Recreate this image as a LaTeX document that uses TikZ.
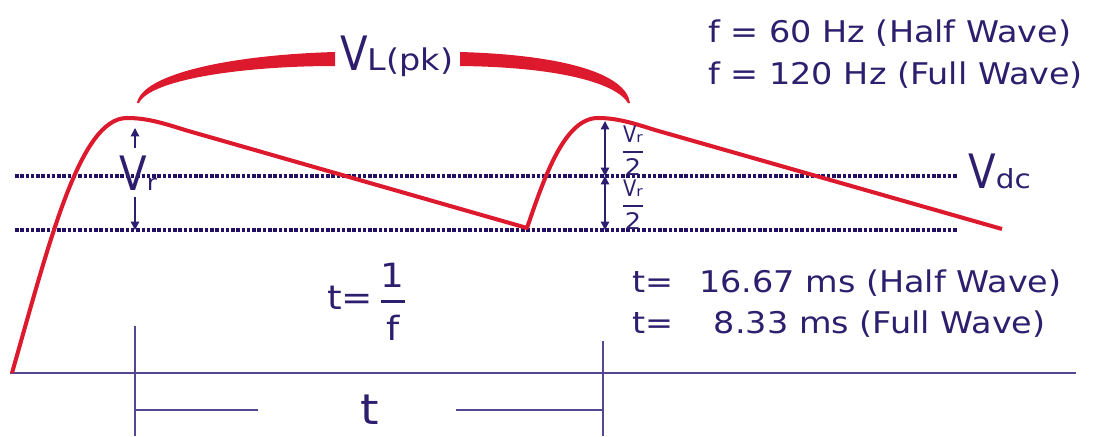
\documentclass[tikz,border=0pt]{standalone}
\usepackage{fontspec}
\setmainfont{DejaVu Sans}[FakeStretch=1.12]
\newfontfamily\tallfont{DejaVu Sans}[FakeStretch=0.85]
\usetikzlibrary{arrows.meta}
\definecolor{inkblue}{RGB}{45,30,110}
\definecolor{dotblue}{RGB}{35,15,100}
\definecolor{axispurple}{RGB}{85,70,145}
\definecolor{wavered}{RGB}{220,25,45}
\newcommand{\bigV}{{\tallfont\fontsize{27}{27}\selectfont V}}

\begin{document}
\begin{tikzpicture}[x=0.02cm, y=-0.02cm,
    txt/.style={text=inkblue, inner sep=0pt, font=\fontsize{17}{20}\selectfont},
    dotline/.style={dotblue, line width=1.8pt, dash pattern=on 2pt off 1pt},
    guide/.style={axispurple, line width=0.8pt},
    vtip/.style={inkblue, line width=0.8pt, -{Triangle[length=4.8pt,width=4.8pt]}},
    vboth/.style={inkblue, line width=0.8pt, {Triangle[length=4.8pt,width=4.8pt]}-{Triangle[length=4.8pt,width=4.8pt]}}]
    \useasboundingbox (0,0) rectangle (1094,436);

    \coordinate (start) at (12,373);
    \coordinate (pk1) at (127,118);
    \coordinate (tr1) at (527,228);
    \coordinate (pk2) at (598,118);
    \coordinate (stop) at (1002,229);

    \draw[dotline] (15,176) -- (958,176);
    \draw[dotline] (15,230) -- (958,230);
    \draw[guide, line width=1pt] (10,373) -- (1076,373);

    \draw[wavered, line width=2.3pt, line join=round]
        (start) .. controls (50,240) and (80,118) .. (pk1)
        .. controls (145,118) and (160,122) .. (185,130) -- (tr1)
        .. controls (545,175) and (565,118) .. (pk2)
        .. controls (615,118) and (630,122) .. (655,130) -- (stop);

    \node[txt, anchor=base west] (vlpk) at (340,70) {\bigV{\fontsize{17}{17}\selectfont L(pk)}};
    \fill[wavered] (137,103) .. controls (142,74) and (230,55) .. (335,52) -- (335,66)
        .. controls (240,66) and (150,80) .. (139,103) -- cycle;
    \fill[wavered] (460,52) .. controls (565,55) and (626,74) .. (630,103) -- (628,103)
        .. controls (615,82) and (555,67) .. (460,66) -- cycle;

    \node[txt, anchor=base west] (fhalf) at (708,42) {f = 60 Hz (Half Wave)};
    \node[txt, anchor=base west] (ffull) at (708,84) {f = 120 Hz (Full Wave)};

    \node[txt, anchor=base west] (vr) at (119,190) {\bigV{\fontsize{12.5}{13}\selectfont r}};
    \coordinate (vrtop) at (135,128);
    \coordinate (vrbot) at (135,230);
    \draw[vtip] (vrtop |- 0,148) -- (vrtop);
    \draw[vtip] (vrbot |- 0,197) -- (vrbot);

    \coordinate (midtop) at (605,121);
    \coordinate (midmid) at (605,176);
    \coordinate (midbot) at (605,230);
    \draw[vboth] (midtop) -- (midmid);
    \draw[vboth] (midmid) -- (midbot);
    \node[txt, font=\fontsize{13}{14}\selectfont] (half1) at (633,151)
        {$\displaystyle{\hbox{{\tallfont V}{\fontsize{8}{8}\selectfont r}}\above 1.2pt\hbox{2}}$};
    \node[txt, font=\fontsize{13}{14}\selectfont] (half2) at (633,205)
        {$\displaystyle{\hbox{{\tallfont V}{\fontsize{8}{8}\selectfont r}}\above 1.2pt\hbox{2}}$};

    \node[txt, anchor=base west] (vdc) at (968,188) {\bigV{\fontsize{15}{15}\selectfont dc}};

    \node[txt, font=\fontsize{19}{20}\selectfont] (tfrac) at (367,302)
        {t=\,$\displaystyle{\hbox{1}\above 2.2pt\hbox{f}}$};
    \node[txt, anchor=base west] (thalf) at (632,292) {t=\hspace{0.5em} 16.67 ms (Half Wave)};
    \node[txt, anchor=base west] (tfull) at (632,333) {t=\hspace{1em} 8.33 ms (Full Wave)};

    \coordinate (tk1) at (135,326);
    \coordinate (tk2) at (603,341);
    \draw[guide] (tk1) -- (tk1 |- 0,436);
    \draw[guide] (tk2) -- (tk2 |- 0,436);
    \node[txt, font=\fontsize{24}{24}\selectfont] (tdim) at (370,410) {t};
    \draw[guide] (tdim -| tk1) -- ++(123,0);
    \draw[guide] (tdim -| tk2) -- ++(-147,0);
\end{tikzpicture}
\end{document}
